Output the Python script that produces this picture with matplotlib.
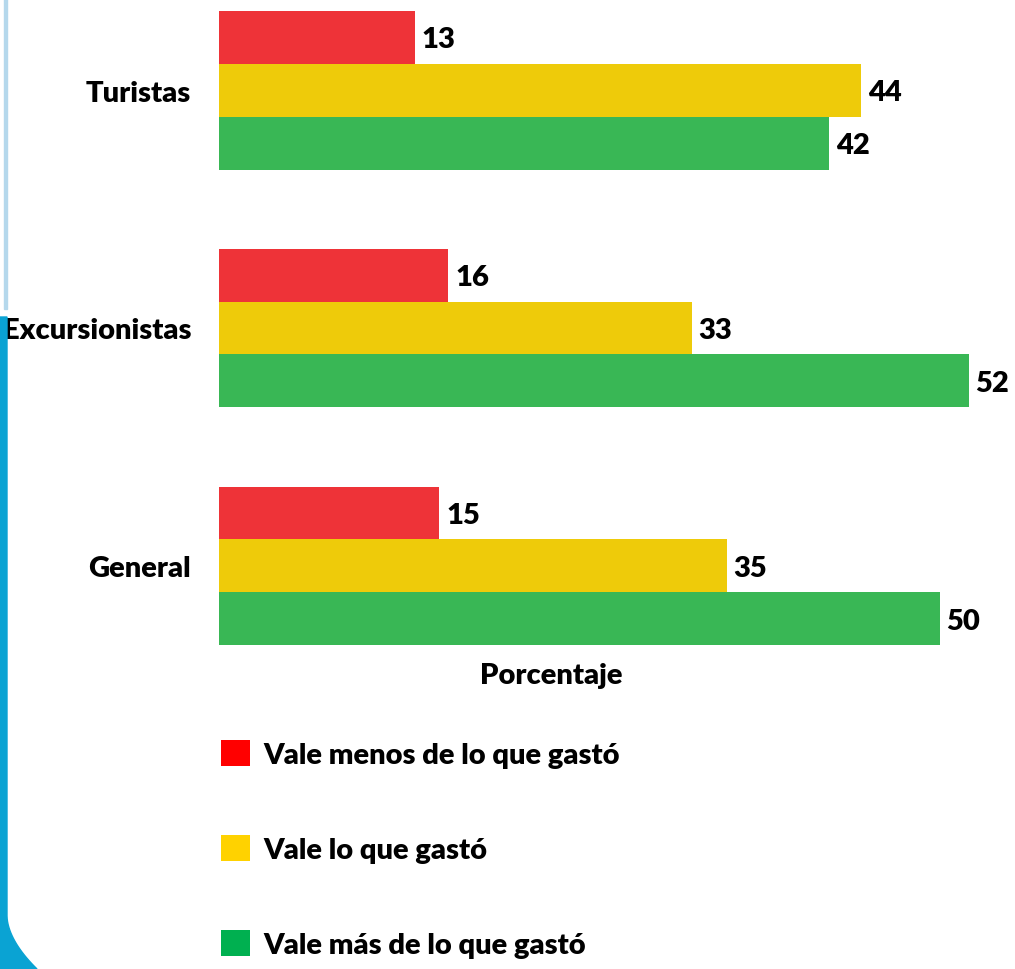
import matplotlib
matplotlib.use("Agg")
import matplotlib.pyplot as plt
from matplotlib.patches import Patch, Rectangle, Polygon
import numpy as np

plt.rcParams['font.family'] = ['Lato', 'DejaVu Sans']
plt.rcParams['font.weight'] = 'heavy'

categories = ["Turistas", "Excursionistas", "General"]
series_names = ["Vale menos de lo que gastó", "Vale lo que gastó", "Vale más de lo que gastó"]
menos = [13.5, 15.8, 15.2]
igual = [44.3, 32.6, 35.0]
mas = [42.1, 51.7, 49.7]
labels_menos = ["13", "16", "15"]
labels_igual = ["44", "33", "35"]
labels_mas = ["42", "52", "50"]

bar_colors = ["#EE3338", "#EECB0A", "#39B755"]
legend_colors = ["#FF0000", "#FFD200", "#00B050"]

W, H = 1015, 970
fig = plt.figure(figsize=(W / 100, H / 100), dpi=100)

# decorative slide edge
fig.patches.append(Rectangle((4 / W, 1 - 310 / H), 3 / W, 310 / H, transform=fig.transFigure,
                             color="#B5D8EC", zorder=0))
curve_y = np.linspace(917, 970, 20)
curve_x = 7 + 30 * ((curve_y - 917) / 53) ** 1.8
pts = [(0, 1 - 318 / H), (7 / W, 1 - 318 / H)] + [(x / W, 1 - y / H) for x, y in zip(curve_x, curve_y)] + [(0, 0)]
fig.patches.append(Polygon(pts, closed=True, transform=fig.transFigure, color="#0AA3D3", zorder=0))

FS = 21
xmax = 55
ax_left = 219 / W
ax_w = xmax * 14.5 / W
ax_top = 12
ax_bot = 646
ax = fig.add_axes([ax_left, 1 - ax_bot / H, ax_w, (ax_bot - ax_top) / H])

centers = np.arange(len(categories)) * 4.5
h = 1.0
series = [menos, igual, mas]
slabels = [labels_menos, labels_igual, labels_mas]
for k, (vals, labs) in enumerate(zip(series, slabels)):
    ys = centers + (k - 1) * h
    ax.barh(ys, vals, height=h, color=bar_colors[k], clip_on=False, linewidth=0)
    for y, v, t in zip(ys, vals, labs):
        ax.annotate(t, (v, y), xytext=(5, -1.5), textcoords="offset points", ha="left", va="center",
                    fontsize=FS, fontweight="heavy", color="black", annotation_clip=False)

ax.set_xlim(0, xmax)
ax.set_ylim(centers[-1] + 1.5 * h, centers[0] - 1.5 * h)
ax.set_yticks(centers)
ax.set_yticklabels(categories, fontsize=FS, fontweight="heavy")
ax.tick_params(axis="y", length=0, pad=20)
ax.set_xticks([])
for s in ax.spines.values():
    s.set_visible(False)
ax.set_xlabel("Porcentaje", fontsize=FS, fontweight="heavy", x=(551 - 219) / (xmax * 14.5), labelpad=12)

handles = [Patch(facecolor=c, edgecolor="none") for c in legend_colors]
leg = fig.legend(handles, series_names, loc="upper left", bbox_to_anchor=(209 / W, 1 - 729 / H),
                 frameon=False, handlelength=1.0, handleheight=1.0, handletextpad=0.45,
                 labelspacing=2.3, borderaxespad=0, prop={"weight": "heavy", "size": FS})

fig.savefig("out.png", dpi=100)
